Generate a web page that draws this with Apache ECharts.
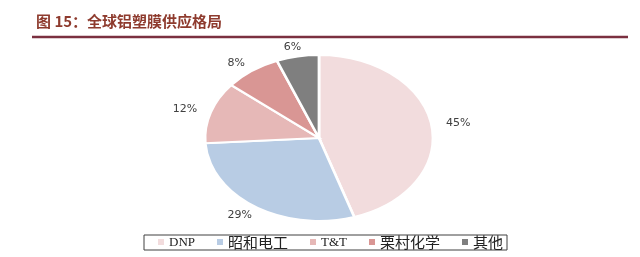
<!DOCTYPE html>
<html><head><meta charset="utf-8">
<script src="https://cdn.jsdelivr.net/npm/echarts@6/dist/echarts.min.js"></script>
<style>html,body{margin:0;padding:0;background:#fff}#c{width:640px;height:257px}</style>
</head><body><div id="c"></div>
<script>
var categories = ['DNP', '昭和电工', 'T&T', '栗村化学', '其他'];
var shares = [45, 29, 12, 8, 6];
var colors = ['#F2DCDD', '#B8CCE4', '#E6B8B7', '#D99694', '#7F7F7F'];
var labels = ['45%', '29%', '12%', '8%', '6%'];

var total = shares.reduce(function (a, b) { return a + b; }, 0);
var CX = 319, CY = 138, RX = 114, RY = 83;

function makeRender(idx) {
  return function (params, api) {
    var before = 0;
    for (var i = 0; i < idx; i++) before += shares[i];
    var v = api.value(0);
    var a0 = -Math.PI / 2 + before / total * Math.PI * 2;
    var a1 = a0 + v / total * Math.PI * 2;
    var mid = (a0 + a1) / 2;
    var lx = CX + Math.cos(mid) * (RX + 27);
    var ly = CY + Math.sin(mid) * (RY + 10);
    return {
      type: 'group',
      children: [{
        type: 'sector',
        shape: { cx: CX, cy: CY, r: RY, r0: 0, startAngle: a0, endAngle: a1, clockwise: true },
        scaleX: RX / RY, scaleY: 1, originX: CX, originY: CY,
        style: { fill: colors[idx], stroke: '#ffffff', lineWidth: 2, strokeNoScale: true }
      }, {
        type: 'text',
        x: lx, y: ly,
        style: { text: labels[idx], fill: '#404040', font: '11px "DejaVu Sans", sans-serif', align: 'center', verticalAlign: 'middle' }
      }]
    };
  };
}

var series = categories.map(function (name, i) {
  return {
    type: 'custom', name: name, coordinateSystem: 'none',
    itemStyle: { color: colors[i] },
    data: [[shares[i]]],
    renderItem: makeRender(i),
    silent: true, animation: false
  };
});

var chart = echarts.init(document.getElementById('c'), null, { renderer: 'canvas' });
chart.setOption({
  backgroundColor: '#ffffff',
  animation: false,
  title: {
    text: '图 15：全球铝塑膜供应格局',
    left: 31, top: 9,
    textStyle: { color: '#8E3B2E', fontSize: 15, fontWeight: 'bold', fontFamily: '"Noto Sans CJK SC", sans-serif' }
  },
  graphic: [{
    type: 'line', shape: { x1: 32, y1: 37, x2: 628, y2: 37 },
    style: { stroke: '#7B3040', lineWidth: 2.5 }
  }],
  legend: {
    data: categories,
    left: 144, top: 235,
    padding: [0, 4, 0, 14],
    itemGap: 22,
    itemWidth: 6, itemHeight: 6, icon: 'rect',
    borderColor: '#404040', borderWidth: 1,
    formatter: function (name) {
      return /[\u4e00-\u9fa5]/.test(name) ? '{cn|' + name + '}' : '{en|' + name + '}';
    },
    textStyle: {
      color: '#222', fontSize: 13,
      rich: {
        cn: { fontSize: 15, fontFamily: '"Noto Sans CJK SC", serif', color: '#222', padding: [1, 0, 0, 0] },
        en: { fontSize: 13, fontFamily: '"Liberation Serif", serif', color: '#222', padding: [1, 0, 0, 0] }
      }
    }
  },
  series: series
});
</script></body></html>
